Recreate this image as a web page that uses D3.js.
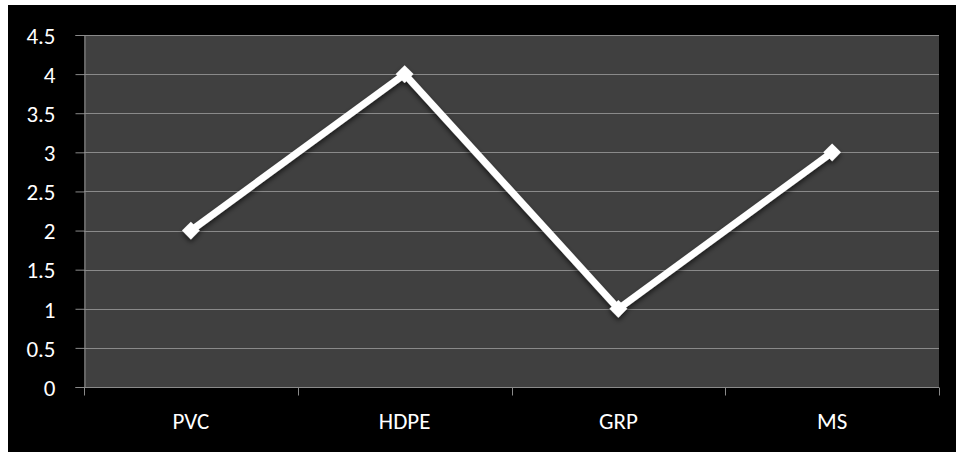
<!DOCTYPE html>
<html>
<head>
<meta charset="utf-8">
<script src="https://cdn.jsdelivr.net/npm/d3@7"></script>
<style>
  html, body { margin: 0; padding: 0; background: #ffffff; }
  svg { display: block; }
  text { font-family: Calibri, Carlito, Lato, "Open Sans", sans-serif; fill: #ffffff; }
</style>
</head>
<body>
<svg id="chart" width="956" height="452"></svg>
<script>
// Materials compared, and their scores
const categories = ["PVC", "HDPE", "GRP", "MS"];
const values = [2, 4, 1, 3];
const yTicks = [0, 0.5, 1, 1.5, 2, 2.5, 3, 3.5, 4, 4.5];

const FONT = 'Calibri, Carlito, Lato, "Open Sans", sans-serif';
const FONT_SIZE = 23;

const svg = d3.select("#chart");
const W = 956, H = 452;
const margin = { left: 84, right: 17, top: 35, bottom: 65 };

// Black chart background
svg.append("rect")
  .attr("x", 8).attr("y", 5)
  .attr("width", W - 8).attr("height", H - 5)
  .attr("fill", "#000000");

const x = d3.scaleBand()
  .domain(categories)
  .range([margin.left, W - margin.right]);

const y = d3.scaleLinear()
  .domain([0, 4.5])
  .range([H - margin.bottom, margin.top]);

// Plot area
svg.append("rect")
  .attr("x", margin.left).attr("y", margin.top)
  .attr("width", x.range()[1] - margin.left)
  .attr("height", y(0) - margin.top)
  .attr("fill", "#404040");

// Horizontal gridlines
svg.append("g")
  .selectAll("line")
  .data(yTicks.filter(d => d > 0))
  .join("line")
  .attr("x1", margin.left).attr("x2", x.range()[1])
  .attr("y1", d => Math.round(y(d)) + 0.5).attr("y2", d => Math.round(y(d)) + 0.5)
  .attr("stroke", "#8a8a8a").attr("stroke-width", 1);

// Y axis
const yAxis = svg.append("g")
  .attr("transform", `translate(${margin.left + 0.5},0)`)
  .call(d3.axisLeft(y).tickValues(yTicks).tickSize(9).tickPadding(20).tickFormat(d3.format("")));
yAxis.attr("font-family", FONT).attr("font-size", FONT_SIZE);
yAxis.select(".domain").attr("stroke", "#8a8a8a");
yAxis.selectAll(".tick line").attr("stroke", "#8a8a8a");
yAxis.selectAll(".tick text").attr("fill", "#ffffff").attr("dy", "0.36em");

// X axis: ticks sit at the band boundaries
const xAxisG = svg.append("g")
  .attr("transform", `translate(0,${Math.round(y(0)) + 0.5})`)
  .attr("font-family", FONT).attr("font-size", FONT_SIZE);
xAxisG.append("line")
  .attr("x1", margin.left).attr("x2", x.range()[1])
  .attr("stroke", "#8a8a8a");
const boundaries = categories.map(c => x(c)).concat([x.range()[1]]);
xAxisG.selectAll("line.tick")
  .data(boundaries)
  .join("line")
  .attr("class", "tick")
  .attr("x1", d => Math.round(d) + 0.5).attr("x2", d => Math.round(d) + 0.5)
  .attr("y1", 0).attr("y2", 8)
  .attr("stroke", "#8a8a8a");
xAxisG.selectAll("text")
  .data(categories)
  .join("text")
  .attr("x", d => x(d) + x.bandwidth() / 2)
  .attr("y", 41.5)
  .attr("text-anchor", "middle")
  .text(d => d);

// Soft shadow under the series
const defs = svg.append("defs");
const f = defs.append("filter").attr("id", "shadow")
  .attr("x", "-10%").attr("y", "-10%").attr("width", "120%").attr("height", "130%");
f.append("feDropShadow")
  .attr("dx", 0).attr("dy", 3).attr("stdDeviation", 2.5)
  .attr("flood-color", "#000000").attr("flood-opacity", 0.6);

const cx = d => x(d) + x.bandwidth() / 2;
const line = d3.line()
  .x((d, i) => cx(categories[i]))
  .y(d => y(d));

const series = svg.append("g").attr("filter", "url(#shadow)");
series.append("path")
  .datum(values)
  .attr("d", line)
  .attr("fill", "none")
  .attr("stroke", "#ffffff")
  .attr("stroke-width", 7)
  .attr("stroke-linejoin", "miter");

series.selectAll("path.marker")
  .data(values)
  .join("path")
  .attr("class", "marker")
  .attr("transform", (d, i) => `translate(${cx(categories[i])},${y(d)})`)
  .attr("d", d3.symbol(d3.symbolDiamond2, 200)())
  .attr("fill", "#ffffff");
</script>
</body>
</html>
